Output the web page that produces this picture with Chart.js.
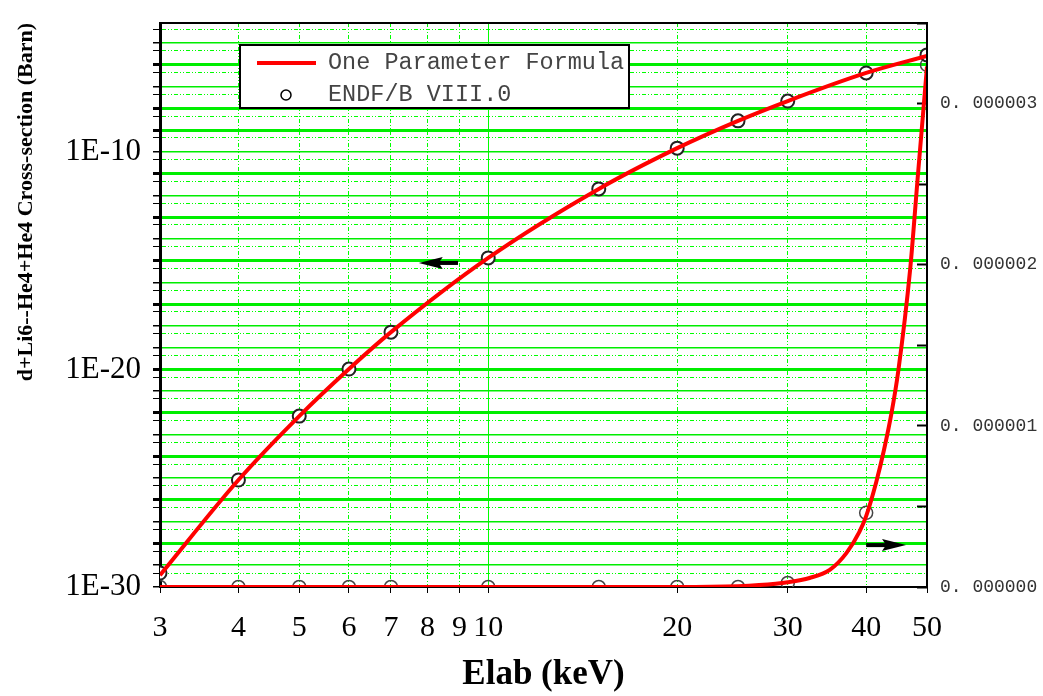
<!DOCTYPE html>
<html>
<head>
<meta charset="utf-8">
<script src="https://cdn.jsdelivr.net/npm/chart.js@4.4.0/dist/chart.umd.min.js"></script>
<style>html,body{margin:0;padding:0;background:#fff}</style>
</head>
<body>
<canvas id="myChart" width="1043" height="696"></canvas>
<script>
// ENDF/B VIII.0 points
const endf_e = [3, 4, 5, 6, 7, 10, 15, 20, 25, 30, 40, 50];
const endf_left = [4.4e-30, 8.3e-26, 7.2e-23, 1.05e-20, 5.2e-19, 1.35e-15, 2.0e-12, 1.5e-10, 2.7e-9, 2.2e-8, 4.3e-7, 2.9e-6];
const endf_right = [0, 0, 0, 0, 0, 0, 0, 0, 0, 0.025e-6, 0.46e-6, 3.24e-6];

// One Parameter Formula curve
const formula_left_e = [3, 4, 5, 6, 7, 10, 15, 20, 25, 30, 40, 50];
const formula_left = [3.5e-30, 8.3e-26, 7.2e-23, 1.05e-20, 5.2e-19, 1.35e-15, 2.0e-12, 1.5e-10, 2.7e-9, 2.2e-8, 4.3e-7, 2.6e-6];
const formula_right_e = [3, 10, 20, 25, 27, 30, 32.5, 35, 37.2, 39, 40, 41.5, 42.7, 43.9, 45, 47, 48.3, 50];
const formula_right = [0, 0, 0, 0.005e-6, 0.012e-6, 0.03e-6, 0.056e-6, 0.106e-6, 0.21e-6, 0.34e-6, 0.44e-6, 0.65e-6, 0.85e-6, 1.08e-6, 1.34e-6, 1.97e-6, 2.53e-6, 3.23e-6];

const x_ticks = [3, 4, 5, 6, 7, 8, 9, 10, 20, 30, 40, 50];
const left_labels = [1e-30, 1e-20, 1e-10];
const right_labels = ['0. 000000', '0. 000001', '0. 000002', '0. 000003'];
const thick_decades = [-28, -26, -24, -22, -20, -17, -15, -13, -11, -9, -8, -6];

// arrows (data units)
const arrow_left = {x0: 8.95, x1: 7.75, y: 7.9e-16, axis: 'y'};
const arrow_right = {x0: 40.0, x1: 46.3, y: 0.26e-6, axis: 'y2'};

const GREEN = '#00ee00';
const DOT_GREEN = '#00ff00';
const DOTS = [4, 2, 1, 2, 1, 2];

const pts = (xs, ys) => xs.map((x, i) => ({x: x, y: ys[i]}));
const noPad = s => { s.paddingTop = 0; s.paddingBottom = 0; };

const frame = {
  id: 'frame',
  afterDatasetsDraw(chart) {
    const c = chart.ctx, a = chart.chartArea;
    c.save();
    c.strokeStyle = '#000';
    c.lineWidth = 2;
    c.beginPath();
    c.moveTo(a.left, a.top); c.lineTo(a.right, a.top); c.lineTo(a.right, a.bottom);
    c.stroke();

    // arrows
    [arrow_left, arrow_right].forEach(ar => {
      const xs = chart.scales.x, ys = chart.scales[ar.axis];
      const x0 = xs.getPixelForValue(ar.x0), x1 = xs.getPixelForValue(ar.x1);
      const y = ys.getPixelForValue(ar.y);
      const dir = Math.sign(x1 - x0);
      c.strokeStyle = '#000'; c.fillStyle = '#000'; c.lineWidth = 4;
      c.beginPath(); c.moveTo(x0, y); c.lineTo(x1 - dir * 14, y); c.stroke();
      c.beginPath();
      c.moveTo(x1, y); c.lineTo(x1 - dir * 24, y - 6); c.lineTo(x1 - dir * 20, y); c.lineTo(x1 - dir * 24, y + 6);
      c.closePath(); c.fill();
    });

    // legend box
    const lx = a.left + 80, ly = a.top + 22, lw = 389, lh = 63;
    c.fillStyle = '#fff';
    c.fillRect(lx, ly, lw, lh);
    c.lineWidth = 2; c.strokeStyle = '#000';
    c.strokeRect(lx, ly, lw, lh);
    c.strokeStyle = '#ff0000'; c.lineWidth = 4;
    c.beginPath(); c.moveTo(lx + 17, ly + 18); c.lineTo(lx + 76, ly + 18); c.stroke();
    c.strokeStyle = '#000'; c.lineWidth = 1.5; c.fillStyle = '#fff';
    c.beginPath(); c.arc(lx + 46, ly + 50, 5, 0, Math.PI * 2); c.fill(); c.stroke();
    c.fillStyle = '#444';
    c.font = '23.5px "Liberation Mono"';
    c.textBaseline = 'middle';
    c.fillText('One Parameter Formula', lx + 88, ly + 18);
    c.fillText('ENDF/B VIII.0', lx + 88, ly + 50);
    c.restore();
  }
};

const ctx = document.getElementById('myChart');

new Chart(ctx, {
  type: 'line',
  data: {
    datasets: [
      {
        label: 'One Parameter Formula',
        data: pts(formula_left_e, formula_left),
        yAxisID: 'y',
        borderColor: '#ff0000',
        borderWidth: 4,
        pointRadius: 0,
        cubicInterpolationMode: 'monotone'
      },
      {
        label: 'One Parameter Formula',
        data: pts(formula_right_e, formula_right),
        yAxisID: 'y2',
        borderColor: '#ff0000',
        borderWidth: 4,
        pointRadius: 0,
        cubicInterpolationMode: 'monotone'
      },
      {
        label: 'ENDF/B VIII.0',
        data: pts(endf_e, endf_left),
        yAxisID: 'y',
        showLine: false,
        pointRadius: 6.5,
        pointBorderWidth: 2,
        pointBorderColor: '#222',
        pointBackgroundColor: '#fff'
      },
      {
        label: 'ENDF/B VIII.0',
        data: pts(endf_e, endf_right),
        yAxisID: 'y2',
        showLine: false,
        pointRadius: 6.5,
        pointBorderWidth: 1.5,
        pointBorderColor: '#444',
        pointBackgroundColor: 'rgba(255,255,255,0)'
      }
    ]
  },
  options: {
    responsive: false,
    animation: false,
    layout: {padding: {top: 23, left: 0, right: 0, bottom: 0}},
    plugins: {
      legend: {display: false},
      tooltip: {enabled: false}
    },
    scales: {
      x: {
        type: 'logarithmic',
        min: 3,
        max: 50,
        afterBuildTicks: s => { s.ticks = x_ticks.map(v => ({value: v})); },
        afterFit: s => { s.height = 109; s.paddingLeft = 0; s.paddingRight = 0; },
        ticks: {
          autoSkip: false,
          maxRotation: 0,
          padding: 17,
          color: '#000',
          font: {family: 'Liberation Serif', size: 30},
          callback: v => String(v)
        },
        grid: {
          color: c => (c.tick && (c.tick.value === 3 || c.tick.value === 50)) ? 'rgba(0,0,0,0)' : DOT_GREEN,
          lineWidth: 1,
          tickColor: '#000',
          tickLength: 6
        },
        border: {
          color: '#000',
          width: 2,
          dash: c => (c.tick && c.tick.value === 10) ? [] : DOTS
        },
        title: {
          display: true,
          text: 'Elab (keV)',
          color: '#000',
          font: {family: 'Liberation Serif', size: 35, weight: 'bold'},
          padding: {top: 0, bottom: 0}
        }
      },
      y: {
        type: 'logarithmic',
        position: 'left',
        min: 1e-30,
        max: 8.5e-5,
        afterBuildTicks: s => {
          const t = [];
          for (let n = -30; n <= -5; n++) {
            t.push({value: Math.pow(10, n)});
            t.push({value: 4.4 * Math.pow(10, n)});
          }
          s.ticks = t;
        },
        afterFit: s => { s.width = 160; noPad(s); },
        ticks: {
          autoSkip: false,
          padding: 12,
          color: '#000',
          font: {family: 'Liberation Serif', size: 31},
          callback: v => {
            const hit = left_labels.find(l => Math.abs(Math.log10(l) - Math.log10(v)) < 0.01);
            return hit ? '1E' + Math.round(Math.log10(hit)) : '';
          }
        },
        grid: {
          color: c => {
            if (!c.tick) return GREEN;
            const e = Math.log10(c.tick.value);
            if (Math.abs(e + 30) < 0.01) return 'rgba(0,0,0,0)';
            return Math.abs(e - Math.round(e)) > 0.01 ? DOT_GREEN : GREEN;
          },
          lineWidth: c => {
            if (!c.tick) return 1;
            const e = Math.log10(c.tick.value);
            const r = Math.round(e);
            if (Math.abs(e - r) > 0.01) return 1;
            return thick_decades.includes(r) ? 3 : 1.5;
          },
          tickColor: '#000',
          tickLength: 7
        },
        border: {
          color: '#000',
          width: 3,
          dash: c => {
            if (!c.tick) return [];
            const e = Math.log10(c.tick.value);
            return Math.abs(e - Math.round(e)) > 0.01 ? DOTS : [];
          }
        },
        title: {
          display: true,
          align: 'end',
          text: 'd+Li6--He4+He4 Cross-section (Barn)',
          color: '#000',
          font: {family: 'Liberation Serif', size: 22, weight: 'bold'},
          padding: {top: 13, bottom: 0}
        }
      },
      y2: {
        type: 'linear',
        position: 'right',
        min: 0,
        max: 3.5e-6,
        afterBuildTicks: s => {
          const t = [];
          for (let k = 0; k <= 7; k++) t.push({value: k * 0.5e-6});
          s.ticks = t;
        },
        afterFit: s => { s.width = 116; noPad(s); },
        ticks: {
          autoSkip: false,
          padding: 23,
          color: '#333',
          font: {family: 'Liberation Mono', size: 18},
          callback: v => {
            const k = Math.round(v / 1e-6);
            return Math.abs(v / 1e-6 - k) < 0.01 ? right_labels[k] : '';
          }
        },
        grid: {
          drawOnChartArea: false,
          tickColor: '#000',
          tickWidth: 2,
          tickLength: -10
        },
        border: {color: '#000', width: 2}
      }
    }
  },
  plugins: [frame]
});
</script>
</body>
</html>
